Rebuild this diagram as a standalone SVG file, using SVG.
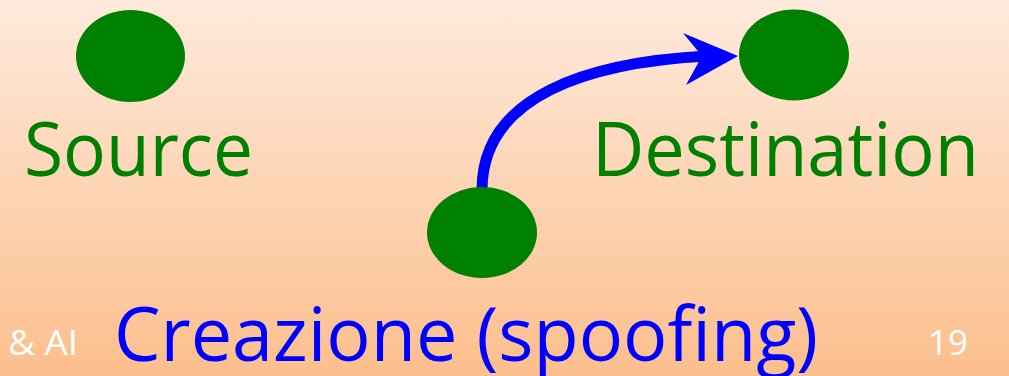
<svg xmlns="http://www.w3.org/2000/svg" width="1009" height="376" viewBox="0 0 1009 376">
  <defs>
    <linearGradient id="bg" x1="0" y1="0" x2="0" y2="1">
      <stop offset="0" stop-color="#FEEADC"/>
      <stop offset="1" stop-color="#FCBF8D"/>
    </linearGradient>
    <style>
      .node { fill: #008000; }
      .lbl { font-family: "Open Sans", "Liberation Sans", sans-serif; font-size: 75px; fill: #008000; }
      .title { font-family: "Open Sans", "Liberation Sans", sans-serif; font-size: 75px; fill: #0000FF; }
      .foot { font-family: "Open Sans", "Liberation Sans", sans-serif; font-size: 34px; fill: #FFFFFF; }
      .conn { fill: none; stroke: #0000FF; stroke-width: 11; }
    </style>
  </defs>
  <rect x="0" y="0" width="1009" height="376" fill="url(#bg)"/>

  <g id="connectors">
    <path class="conn" d="M482,190 C482,95 590,62 708,56"/>
    <polygon fill="#0000FF" points="738,56 683,33 702,56 686,85"/>
  </g>

  <g id="source">
    <ellipse class="node" cx="130.5" cy="56" rx="54.5" ry="46"/>
    <text class="lbl" x="24" y="176" textLength="229" lengthAdjust="spacingAndGlyphs">Source</text>
  </g>

  <g id="destination">
    <ellipse class="node" cx="794" cy="55" rx="55" ry="45.5"/>
    <text class="lbl" x="592" y="176" textLength="387" lengthAdjust="spacingAndGlyphs">Destination</text>
  </g>

  <g id="spoofer">
    <ellipse class="node" cx="482" cy="232.5" rx="55" ry="45.5"/>
  </g>

  <g id="caption">
    <text class="title" x="114" y="361" textLength="704" lengthAdjust="spacingAndGlyphs">Creazione (spoofing)</text>
  </g>

  <g id="footer">
    <text class="foot" x="8" y="355" textLength="70" lengthAdjust="spacingAndGlyphs">&amp; AI</text>
    <text class="foot" x="928" y="355" textLength="40" lengthAdjust="spacingAndGlyphs">19</text>
  </g>
</svg>
